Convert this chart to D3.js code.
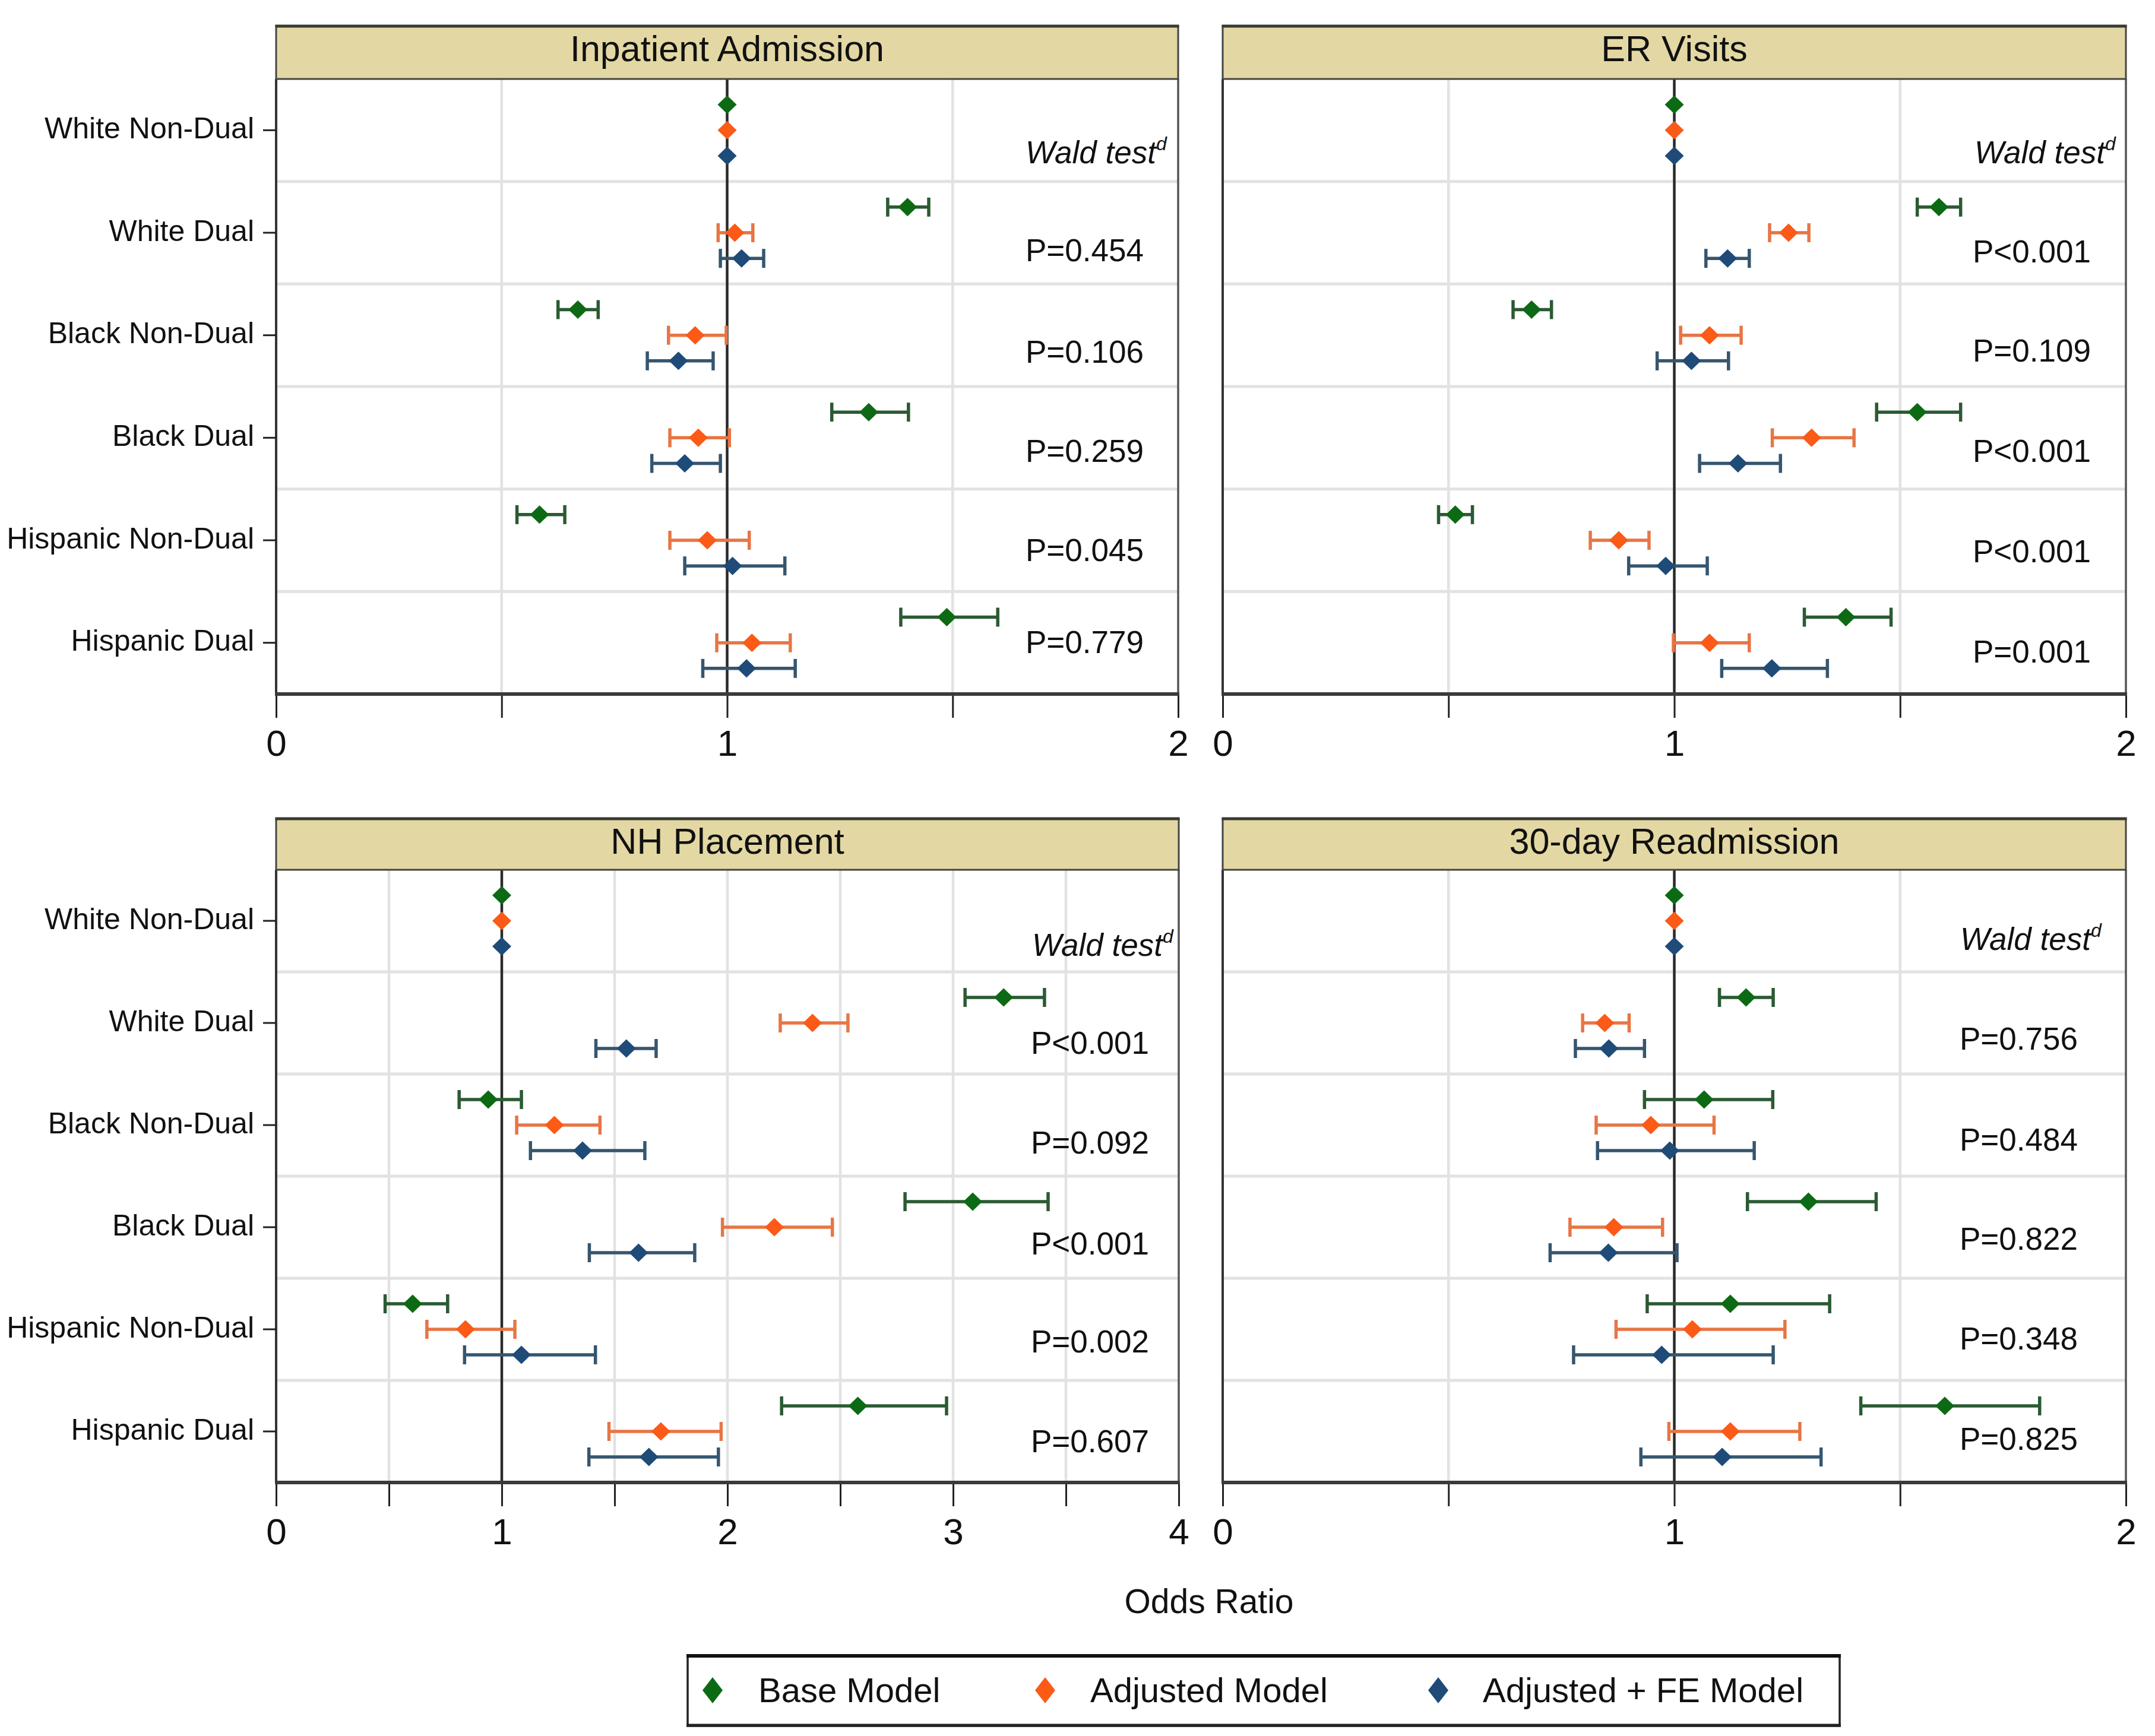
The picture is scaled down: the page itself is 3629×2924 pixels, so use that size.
<!DOCTYPE html>
<html><head><meta charset="utf-8">
<script src="https://cdn.jsdelivr.net/npm/d3@7"></script>
<style>
body{margin:0;background:#fff;}
svg{display:block;}
text{font-family:"Liberation Sans",Arial,Helvetica,sans-serif;fill:#111;}
</style>
</head><body>
<svg id="chart" width="3629" height="2924"></svg>
<script>
// ---------------- DATA ----------------
const categories = ["White Non-Dual","White Dual","Black Non-Dual","Black Dual","Hispanic Non-Dual","Hispanic Dual"];
const modelNames = ["Base Model","Adjusted Model","Adjusted + FE Model"];
const panelTitles = ["Inpatient Admission","ER Visits","NH Placement","30-day Readmission"];

// each entry: [odds ratio, lower CI, upper CI]; reference group has no CI
const inpatientBase = [[1,null,null],[1.400,1.356,1.447],[0.669,0.625,0.714],[1.314,1.232,1.402],[0.584,0.534,0.640],[1.487,1.385,1.600]];
const inpatientAdj  = [[1,null,null],[1.017,0.980,1.057],[0.929,0.870,0.998],[0.936,0.873,1.005],[0.956,0.873,1.049],[1.055,0.977,1.140]];
const inpatientFE   = [[1,null,null],[1.032,0.985,1.081],[0.892,0.823,0.969],[0.906,0.833,0.985],[1.012,0.906,1.128],[1.043,0.946,1.151]];

const erBase = [[1,null,null],[1.586,1.538,1.634],[0.684,0.643,0.728],[1.538,1.448,1.634],[0.515,0.478,0.553],[1.380,1.288,1.480]];
const erAdj  = [[1,null,null],[1.253,1.211,1.298],[1.078,1.014,1.148],[1.304,1.217,1.398],[0.877,0.814,0.944],[1.078,0.998,1.166]];
const erFE   = [[1,null,null],[1.118,1.070,1.166],[1.038,0.962,1.120],[1.141,1.056,1.235],[0.981,0.899,1.073],[1.216,1.105,1.339]];

const nhBase = [[1,null,null],[3.224,3.053,3.405],[0.940,0.811,1.087],[3.087,2.787,3.421],[0.605,0.483,0.760],[2.578,2.240,2.971]];
const nhAdj  = [[1,null,null],[2.377,2.234,2.534],[1.233,1.066,1.435],[2.208,1.978,2.465],[0.839,0.668,1.058],[1.705,1.475,1.972]];
const nhFE   = [[1,null,null],[1.552,1.417,1.684],[1.358,1.127,1.634],[1.606,1.388,1.855],[1.087,0.835,1.415],[1.652,1.386,1.960]];

const readmitBase = [[1,null,null],[1.159,1.100,1.219],[1.066,0.934,1.218],[1.297,1.162,1.447],[1.124,0.940,1.344],[1.599,1.413,1.809]];
const readmitAdj  = [[1,null,null],[0.846,0.797,0.900],[0.948,0.827,1.088],[0.866,0.769,0.974],[1.040,0.871,1.245],[1.124,0.988,1.278]];
const readmitFE   = [[1,null,null],[0.855,0.781,0.934],[0.990,0.830,1.177],[0.854,0.725,1.006],[0.972,0.777,1.219],[1.106,0.926,1.325]];

const pInpatient = ["P=0.454","P=0.106","P=0.259","P=0.045","P=0.779"];
const pER        = ["P<0.001","P=0.109","P<0.001","P<0.001","P=0.001"];
const pNH        = ["P<0.001","P=0.092","P<0.001","P=0.002","P=0.607"];
const pReadmit   = ["P=0.756","P=0.484","P=0.822","P=0.348","P=0.825"];

const xTicksSmall = [0,0.5,1,1.5,2];
const xTicksNH    = [0,0.5,1,1.5,2,2.5,3,3.5,4];
const xDomainSmall = [0,2];
const xDomainNH    = [0,4];
const refValue = 1;
const axisTitle = "Odds Ratio";
const waldLabel = "Wald test";
const waldSup = "d";

// ---------------- STYLE / LAYOUT ----------------
const markerColors = ["#0c6a14","#fb5a17","#1f4b78"];
const ciColors     = ["#2b5a33","#e67645","#36566f"];
const headerFill = "#e3d8a3";
const gridColor = "#e2e2e2";
const frameColor = "#333";

const panels = [
  {title:panelTitles[0], series:[inpatientBase,inpatientAdj,inpatientFE], p:pInpatient,
   x0:465, x1:1984, top:44, hb:133, bot:1169, domain:xDomainSmall, ticks:xTicksSmall, yLabels:true,
   waldX:1727, pX:1727, waldY:0.822, pY:[1.778,2.768,3.735,4.702,5.599]},
  {title:panelTitles[1], series:[erBase,erAdj,erFE], p:pER,
   x0:2059, x1:3580, top:44, hb:133, bot:1169, domain:xDomainSmall, ticks:xTicksSmall, yLabels:false,
   waldX:3325, pX:3322, waldY:0.822, pY:[1.789,2.756,3.735,4.713,5.692]},
  {title:panelTitles[2], series:[nhBase,nhAdj,nhFE], p:pNH,
   x0:465, x1:1985, top:1379, hb:1465, bot:2497, domain:xDomainNH, ticks:xTicksNH, yLabels:true,
   waldX:1738, pX:1736, waldY:0.843, pY:[1.802,2.779,3.767,4.727,5.703]},
  {title:panelTitles[3], series:[readmitBase,readmitAdj,readmitFE], p:pReadmit,
   x0:2059, x1:3580, top:1379, hb:1465, bot:2497, domain:xDomainSmall, ticks:xTicksSmall, yLabels:false,
   waldX:3301, pX:3300, waldY:0.785, pY:[1.762,2.75,3.72,4.698,5.68]}
];
const modelOffsets = [-0.25, 0, 0.25];
const mk = 16;   // marker half-diagonal
const capH = 16;

function diamond(rx, ry){ ry = ry || rx; return `M0,${-ry}L${rx},0L0,${ry}L${-rx},0Z`; }

const svg = d3.select("#chart");
svg.append("rect").attr("width",3629).attr("height",2924).attr("fill","#fff");

panels.forEach(P => {
  const g = svg.append("g");
  const x = d3.scaleLinear().domain(P.domain).range([P.x0, P.x1]);
  const y = d3.scaleBand().domain(categories).range([P.hb, P.bot]).paddingInner(0).paddingOuter(0);
  const bw = y.bandwidth();

  g.append("rect").attr("x",P.x0).attr("y",P.hb).attr("width",P.x1-P.x0).attr("height",P.bot-P.hb).attr("fill","#fff");

  g.selectAll("line.vg").data(P.ticks.filter(t => t>P.domain[0] && t<P.domain[1] && t!==refValue))
    .join("line").attr("x1",d=>x(d)).attr("x2",d=>x(d)).attr("y1",P.hb).attr("y2",P.bot)
    .attr("stroke",gridColor).attr("stroke-width",4.5);

  g.selectAll("line.hg").data(categories.slice(1))
    .join("line").attr("x1",P.x0).attr("x2",P.x1).attr("y1",d=>y(d)).attr("y2",d=>y(d))
    .attr("stroke",gridColor).attr("stroke-width",5);

  g.append("line").attr("x1",x(refValue)).attr("x2",x(refValue)).attr("y1",P.hb).attr("y2",P.bot)
    .attr("stroke","#2a2a2a").attr("stroke-width",4.5);

  P.series.forEach((ser, mi) => {
    const rows = ser.map((v,i) => ({cat:categories[i], or:v[0], lo:v[1], hi:v[2]}));
    const cy = d => y(d.cat) + bw/2 + modelOffsets[mi]*bw;
    const withCI = rows.filter(d => d.lo !== null);
    const eg = g.append("g").attr("stroke",ciColors[mi]).attr("stroke-width",5.5).attr("fill","none");
    eg.selectAll("line.bar").data(withCI).join("line")
      .attr("x1",d=>x(d.lo)).attr("x2",d=>x(d.hi)).attr("y1",cy).attr("y2",cy);
    eg.selectAll("line.cl").data(withCI).join("line")
      .attr("x1",d=>x(d.lo)).attr("x2",d=>x(d.lo)).attr("y1",d=>cy(d)-capH).attr("y2",d=>cy(d)+capH);
    eg.selectAll("line.ch").data(withCI).join("line")
      .attr("x1",d=>x(d.hi)).attr("x2",d=>x(d.hi)).attr("y1",d=>cy(d)-capH).attr("y2",d=>cy(d)+capH);
    g.selectAll(null).data(rows).join("path")
      .attr("d",diamond(mk, mk-0.5)).attr("fill",markerColors[mi])
      .attr("transform",d=>`translate(${x(d.or)},${cy(d)})`);
  });

  g.append("line").attr("x1",P.x0).attr("x2",P.x0).attr("y1",P.hb).attr("y2",P.bot).attr("stroke",frameColor).attr("stroke-width",4);
  g.append("line").attr("x1",P.x1).attr("x2",P.x1).attr("y1",P.hb).attr("y2",P.bot).attr("stroke","#555").attr("stroke-width",3.5);

  g.append("rect").attr("x",P.x0).attr("y",P.top).attr("width",P.x1-P.x0).attr("height",P.hb-P.top)
    .attr("fill",headerFill).attr("stroke","#444").attr("stroke-width",3);
  g.append("line").attr("x1",P.x0-1.5).attr("x2",P.x1+1.5).attr("y1",P.top).attr("y2",P.top).attr("stroke","#3a3a30").attr("stroke-width",5);
  g.append("text").attr("x",(P.x0+P.x1)/2).attr("y",P.top+59).attr("text-anchor","middle")
    .attr("font-size",61).text(P.title);

  const xa = g.append("g").attr("transform",`translate(0,${P.bot})`)
    .call(d3.axisBottom(x).tickValues(P.ticks).tickSize(40).tickPadding(20)
      .tickFormat(d => Number.isInteger(d) ? d3.format("d")(d) : ""));
  xa.select(".domain").remove();
  xa.selectAll(".tick line").attr("stroke","#222").attr("stroke-width",3);
  xa.selectAll(".tick text").attr("font-size",62).attr("font-family","'Liberation Sans',Arial,sans-serif").attr("fill","#111");
  g.append("line").attr("x1",P.x0-2).attr("x2",P.x1+2).attr("y1",P.bot).attr("y2",P.bot).attr("stroke","#3a3a3a").attr("stroke-width",6);

  if (P.yLabels) {
    const ya = g.append("g").attr("transform",`translate(${P.x0},0)`)
      .call(d3.axisLeft(y).tickSize(22).tickPadding(15));
    ya.select(".domain").remove();
    ya.selectAll(".tick line").attr("stroke","#222").attr("stroke-width",3);
    ya.selectAll(".tick text").attr("font-size",50).attr("dy","0.27em")
      .attr("font-family","'Liberation Sans',Arial,sans-serif").attr("fill","#1a1a1a");
  }

  const wt = g.append("text").attr("x",P.waldX).attr("y",P.hb + P.waldY*bw)
    .attr("font-size",53).attr("font-style","italic");
  wt.append("tspan").text(waldLabel);
  wt.append("tspan").attr("font-size",32).attr("dy",-22).text(waldSup);
  g.selectAll(null).data(P.p).join("text")
    .attr("x",P.pX).attr("y",(d,i)=>P.hb + P.pY[i]*bw)
    .attr("font-size",53).text(d=>d);
});

svg.append("text").attr("x",2036).attr("y",2717).attr("text-anchor","middle").attr("font-size",57).text(axisTitle);

const lg = svg.append("g");
lg.append("rect").attr("x",1158).attr("y",2788).attr("width",1940).attr("height",119)
  .attr("fill","#fff").attr("stroke","#222").attr("stroke-width",3.5);
lg.append("line").attr("x1",1156).attr("x2",3100).attr("y1",2789).attr("y2",2789).attr("stroke","#111").attr("stroke-width",6);
lg.append("line").attr("x1",1156).attr("x2",3100).attr("y1",2906).attr("y2",2906).attr("stroke","#222").attr("stroke-width",5);
const legendMarkX = [1200,1760,2422];
const legendTextX = [1277,1836,2497];
modelNames.forEach((name,i) => {
  lg.append("path").attr("d",diamond(17, 22)).attr("fill",markerColors[i]).attr("transform",`translate(${legendMarkX[i]},2847)`);
  lg.append("text").attr("x",legendTextX[i]).attr("y",2867).attr("font-size",58).text(name);
});
</script>
</body></html>
